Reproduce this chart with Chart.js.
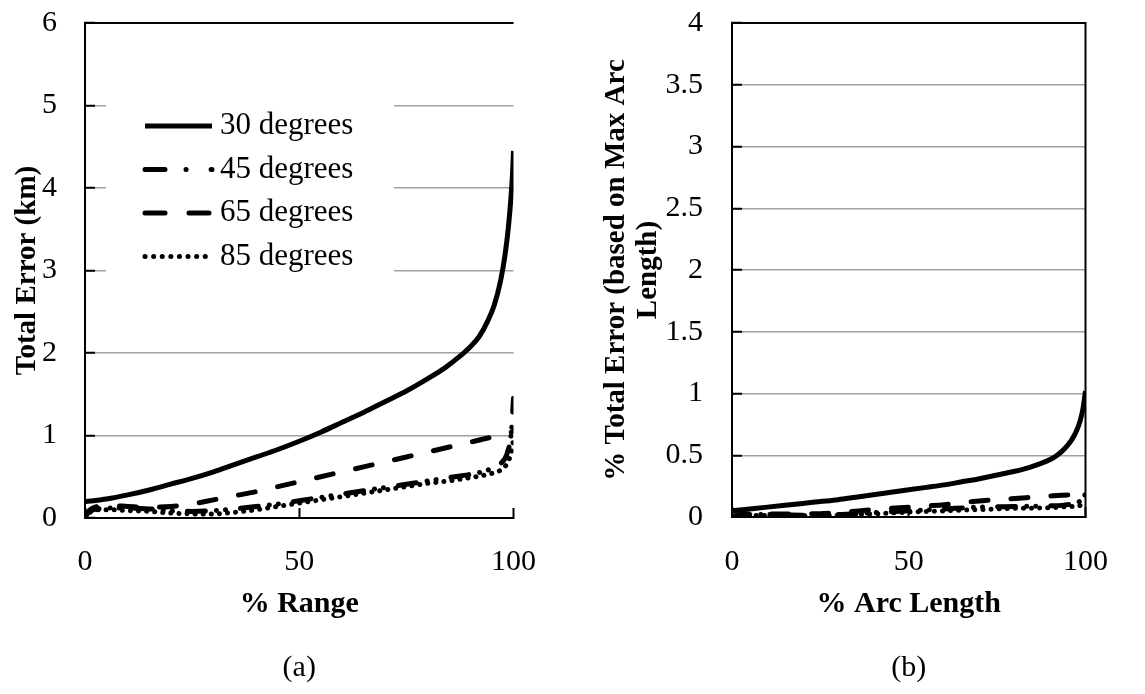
<!DOCTYPE html>
<html>
<head>
<meta charset="utf-8">
<title>Total Error vs Range and Arc Length</title>
<script src="https://cdn.jsdelivr.net/npm/chart.js@4.4.1/dist/chart.umd.min.js"></script>
<style>
  html, body { margin: 0; padding: 0; background: #fff; }
  #wrap { position: relative; width: 1145px; height: 694px; overflow: hidden; background: #fff; }
  canvas { position: absolute; top: 0; }
  #chartA { left: 0; }
  #chartB { left: 572px; }
</style>
</head>
<body>
<div id="wrap">
  <canvas id="chartA" width="572" height="694"></canvas>
  <canvas id="chartB" width="573" height="694"></canvas>
</div>
<script>
// ---- Panel (a): total error (km) against % range ----
const seriesLabels = ['30 degrees', '45 degrees', '65 degrees', '85 degrees'];

const rangeX30 = [0, 2, 5, 10, 15, 20, 25, 30, 35, 40, 45, 50, 55, 60, 65, 70, 75, 80, 84, 87, 90, 92, 94, 95.5, 97, 98, 98.8, 99.4, 99.8, 100];
const errKm30  = [0.20, 0.21, 0.23, 0.28, 0.34, 0.41, 0.48, 0.56, 0.65, 0.74, 0.83, 0.93, 1.04, 1.16, 1.28, 1.41, 1.54, 1.69, 1.82, 1.94, 2.08, 2.2, 2.39, 2.58, 2.88, 3.18, 3.52, 3.88, 4.20, 4.45];

const rangeX45 = [0, 0.5, 1.5, 3, 6, 10, 15, 20, 25, 30, 35, 40, 45, 50, 55, 60, 65, 70, 75, 80, 85, 90, 94, 97, 98.5, 99.5, 100];
const errKm45  = [0, 0.05, 0.09, 0.11, 0.12, 0.12, 0.11, 0.09, 0.08, 0.09, 0.11, 0.14, 0.17, 0.21, 0.25, 0.29, 0.33, 0.37, 0.41, 0.45, 0.49, 0.53, 0.58, 0.66, 0.78, 1.05, 1.45];

const rangeX65 = [0, 0.5, 1.5, 3, 6, 10, 15, 20, 25, 30, 35, 40, 45, 50, 55, 60, 65, 70, 75, 80, 85, 90, 94, 97, 99, 100];
const errKm65  = [0, 0.06, 0.11, 0.14, 0.15, 0.14, 0.13, 0.14, 0.17, 0.22, 0.27, 0.32, 0.38, 0.44, 0.50, 0.56, 0.62, 0.68, 0.74, 0.80, 0.86, 0.92, 0.97, 1.00, 1.03, 1.05];

const rangeX85 = [0, 0.5, 1.5, 3, 6, 10, 15, 20, 25, 30, 35, 40, 45, 50, 55, 60, 65, 70, 75, 80, 85, 90, 94, 97, 98.5, 99.5, 100];
const errKm85  = [0, 0.04, 0.08, 0.10, 0.10, 0.09, 0.08, 0.06, 0.05, 0.05, 0.07, 0.10, 0.14, 0.18, 0.22, 0.26, 0.30, 0.34, 0.38, 0.42, 0.45, 0.49, 0.53, 0.58, 0.66, 0.80, 0.95];

// ---- Panel (b): % total error (based on max arc length) against % arc length ----
const arcX30   = [0, 5, 10, 15, 20, 25, 30, 35, 40, 45, 50, 55, 60, 65, 70, 75, 80, 84, 87, 90, 92, 94, 96, 97.5, 98.5, 99.3, 100];
const errPct30 = [0.05, 0.065, 0.08, 0.095, 0.11, 0.125, 0.14, 0.16, 0.18, 0.20, 0.22, 0.24, 0.26, 0.285, 0.31, 0.34, 0.37, 0.40, 0.43, 0.465, 0.50, 0.55, 0.62, 0.70, 0.78, 0.88, 1.02];

const arcX45   = [0, 2, 5, 10, 20, 30, 40, 50, 60, 70, 80, 90, 95, 98, 99.5, 100];
const errPct45 = [0, 0.015, 0.02, 0.02, 0.015, 0.02, 0.035, 0.05, 0.065, 0.08, 0.085, 0.09, 0.10, 0.12, 0.16, 0.19];

const arcX65   = [0, 2, 5, 10, 20, 30, 40, 45, 50, 55, 60, 65, 70, 80, 90, 95, 100];
const errPct65 = [0, 0.02, 0.025, 0.025, 0.025, 0.035, 0.06, 0.07, 0.08, 0.09, 0.10, 0.115, 0.13, 0.15, 0.17, 0.178, 0.18];

const arcX85   = [0, 2, 5, 10, 20, 30, 40, 50, 60, 70, 80, 90, 95, 98, 100];
const errPct85 = [0, 0.01, 0.012, 0.012, 0.01, 0.015, 0.025, 0.04, 0.05, 0.06, 0.07, 0.075, 0.085, 0.09, 0.11];

// ---- Tick values ----
const xTickValues  = [0, 50, 100];
const yTickValuesA = [0, 1, 2, 3, 4, 5, 6];
const yTickValuesB = [0, 0.5, 1, 1.5, 2, 2.5, 3, 3.5, 4];

const FONT = '"Liberation Serif", "Times New Roman", serif';
Chart.defaults.font.family = FONT;
Chart.defaults.color = '#000';

function points(xs, ys) {
  return xs.map((x, i) => ({ x: x, y: ys[i] }));
}

// line styles per series: solid, long dash-dot-dot, long dash, round dot
const lineStyles = [
  { dash: [],                        legendDash: [] },
  { dash: [18, 11, 0.1, 9, 0.1, 15], legendDash: [20, 21, 0.1, 25] },
  { dash: [17, 23],                  legendDash: [20, 24] },
  { dash: [0.1, 8],                  legendDash: [0.1, 8.5] }
];

function makeDataset(i, xs, ys) {
  return {
    label: seriesLabels[i],
    data: points(xs, ys),
    borderColor: '#000',
    backgroundColor: '#000',
    borderWidth: 5,
    borderDash: lineStyles[i].dash,
    legendDash: lineStyles[i].legendDash,
    borderCapStyle: i === 0 ? 'butt' : 'round',
    borderJoinStyle: 'round',
    pointRadius: 0,
    pointHoverRadius: 0,
    fill: false,
    cubicInterpolationMode: 'monotone'
  };
}

// plot-area outline along the top (and optionally right) edge
const frame = {
  id: 'frame',
  beforeDatasetsDraw(chart, args, opts) {
    const { left, right, top, bottom } = chart.chartArea;
    const ctx = chart.ctx;
    ctx.save();
    ctx.strokeStyle = '#000';
    ctx.lineWidth = 2;
    ctx.beginPath();
    ctx.moveTo(left - 1, top);
    ctx.lineTo(right, top);
    if (opts.right) ctx.lineTo(right, bottom + 1);
    ctx.stroke();
    ctx.restore();
  }
};

// legend block drawn inside the plot area on a white background
const legendBox = {
  id: 'legendBox',
  beforeDatasetsDraw(chart, args, opts) {
    if (!opts || !opts.display) return;
    const ctx = chart.ctx;
    ctx.save();
    ctx.fillStyle = '#fff';
    ctx.fillRect(opts.x, opts.y, opts.w, opts.h);
    chart.data.datasets.forEach((ds, i) => {
      const cy = opts.firstRow + i * opts.rowGap;
      ctx.beginPath();
      ctx.setLineDash(ds.legendDash || []);
      ctx.lineCap = ds.borderCapStyle;
      ctx.lineWidth = ds.borderWidth;
      ctx.strokeStyle = ds.borderColor;
      ctx.moveTo(opts.lineX0, cy);
      ctx.lineTo(opts.lineX1, cy);
      ctx.stroke();
      ctx.setLineDash([]);
      ctx.fillStyle = '#000';
      ctx.font = opts.fontSize + 'px ' + FONT;
      ctx.textBaseline = 'middle';
      ctx.textAlign = 'left';
      ctx.fillText(ds.label, opts.textX, cy);
    });
    ctx.restore();
  }
};

function makeOptions(cfg) {
  return {
    responsive: false,
    animation: false,
    devicePixelRatio: 1,
    events: [],
    layout: { padding: { left: 0, top: 23, right: cfg.padRight, bottom: 0 } },
    plugins: {
      legend: { display: false },
      tooltip: { enabled: false },
      title: {
        display: true,
        text: cfg.caption,
        position: 'bottom',
        fullSize: false,
        color: '#000',
        font: { size: 30, weight: 'normal', family: FONT },
        padding: { top: 0, bottom: 8 }
      },
      frame: { right: cfg.rightBorder },
      legendBox: cfg.legendBox || { display: false }
    },
    scales: {
      x: {
        type: 'linear',
        min: 0,
        max: 100,
        afterBuildTicks: (s) => { s.ticks = xTickValues.map(v => ({ value: v })); },
        afterFit: (s) => { s.height = cfg.xHeight; },
        grid: { drawOnChartArea: false, drawTicks: true, tickLength: -10, tickColor: '#000', tickWidth: 2 },
        border: { display: true, color: '#000', width: 2 },
        ticks: {
          padding: cfg.xTickPad,
          color: '#000',
          font: { size: 30 },
          maxRotation: 0,
          autoSkip: false,
          callback: (v) => String(v)
        },
        title: {
          display: true,
          text: cfg.xTitle,
          color: '#000',
          font: { size: 30, weight: 'bold' },
          padding: { top: 0, bottom: 28 }
        }
      },
      y: {
        type: 'linear',
        min: 0,
        max: cfg.yMax,
        afterBuildTicks: (s) => { s.ticks = cfg.yTicks.map(v => ({ value: v })); },
        afterFit: (s) => {
          s.width = cfg.yWidth;
          // label overflow above/below the axis stays inside the layout padding
          s.paddingTop = 16;
          s.paddingBottom = 16;
        },
        grid: {
          drawOnChartArea: true,
          drawTicks: true,
          tickLength: -10,
          tickColor: '#000',
          tickWidth: 2,
          lineWidth: 1.5,
          color: (c) => (c.tick && c.tick.value === 0) ? 'rgba(0,0,0,0)' : '#a0a0a0'
        },
        border: { display: true, color: '#000', width: 2 },
        ticks: {
          padding: cfg.yTickPad,
          color: '#000',
          font: { size: 30 },
          autoSkip: false,
          callback: (v) => String(v)
        },
        title: {
          display: true,
          text: cfg.yTitle,
          color: '#000',
          font: { size: 29, weight: 'bold', lineHeight: 1.1 },
          padding: { top: cfg.yTitlePad, bottom: 0 }
        }
      }
    }
  };
}

new Chart(document.getElementById('chartA'), {
  type: 'line',
  data: {
    datasets: [
      makeDataset(0, rangeX30, errKm30),
      makeDataset(1, rangeX45, errKm45),
      makeDataset(2, rangeX65, errKm65),
      makeDataset(3, rangeX85, errKm85)
    ]
  },
  options: makeOptions({
    caption: '(a)',
    padRight: 34,
    xHeight: 132,
    xTickPad: 36,
    yWidth: 85,
    yTickPad: 38,
    yTitlePad: 12,
    yMax: 6,
    yTicks: yTickValuesA,
    rightBorder: false,
    xTitle: '% Range',
    yTitle: 'Total Error (km)',
    legendBox: {
      display: true,
      x: 106, y: 92, w: 288, h: 193,
      firstRow: 126, rowGap: 43.5,
      lineX0: 145, lineX1: 212,
      textX: 220, fontSize: 31
    }
  }),
  plugins: [frame, legendBox]
});

new Chart(document.getElementById('chartB'), {
  type: 'line',
  data: {
    datasets: [
      makeDataset(0, arcX30, errPct30),
      makeDataset(1, arcX45, errPct45),
      makeDataset(2, arcX65, errPct65),
      makeDataset(3, arcX85, errPct85)
    ]
  },
  options: makeOptions({
    caption: '(b)',
    padRight: 33,
    xHeight: 133,
    xTickPad: 37,
    yWidth: 160,
    yTickPad: 39,
    yTitlePad: 29,
    yMax: 4,
    yTicks: yTickValuesB,
    rightBorder: true,
    xTitle: '% Arc Length',
    yTitle: ['% Total Error (based on Max Arc', 'Length)']
  }),
  plugins: [frame, legendBox]
});
</script>
</body>
</html>
